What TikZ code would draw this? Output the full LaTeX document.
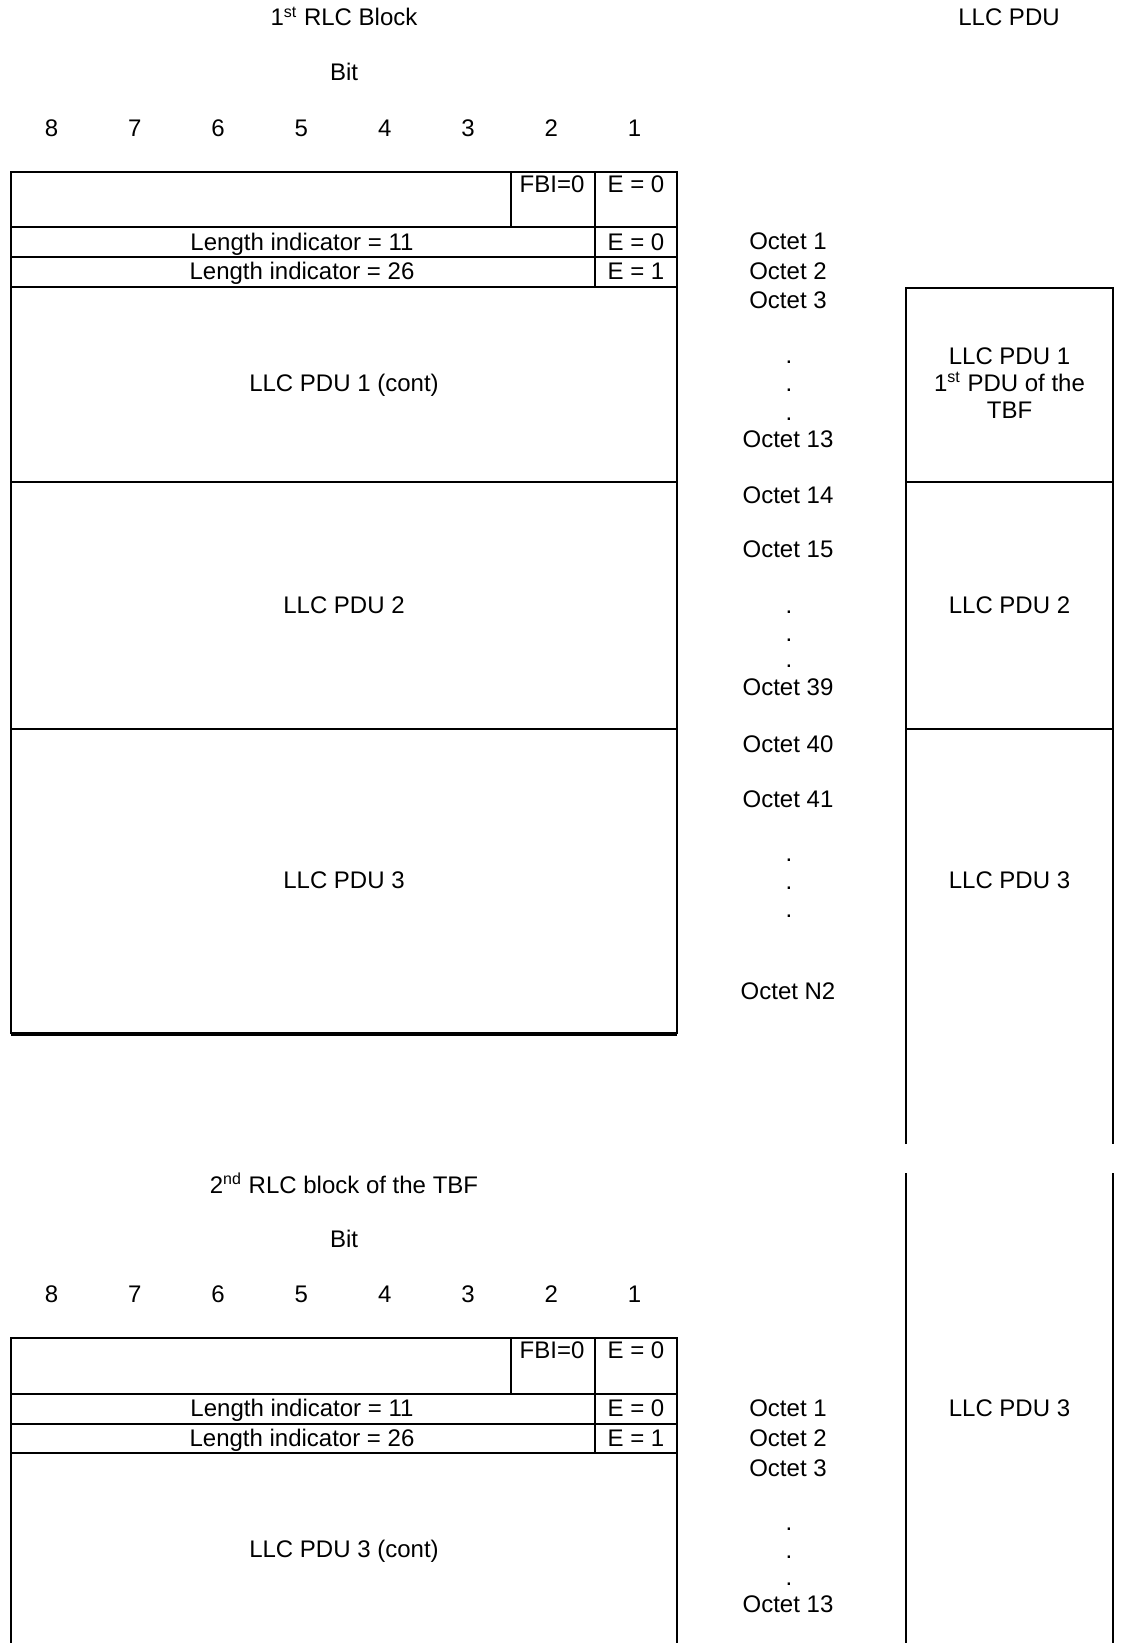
\documentclass[tikz,border=0pt]{standalone}
\usepackage{fontspec}
\setmainfont{Liberation Sans}

\begin{document}
\begin{tikzpicture}[
    x=0.5pt,
    y=-0.5pt,
    plaintext/.style={
        anchor=base,
        inner sep=0pt,
        font=\fontsize{12}{13.6}\selectfont
    },
    stackedtext/.style={
        inner sep=0pt,
        align=center,
        font=\fontsize{12}{13.6}\selectfont
    },
    fieldline/.style={
        line width=1.1pt
    },
    closingline/.style={
        line width=1.8pt
    }
]
    \useasboundingbox (0,0) rectangle (1121,1643);

    % first RLC block: headings
    \node[plaintext] (firstTitle) at (344,26) {1\textsuperscript{st} RLC Block};
    \node[plaintext] (pduTitle) at (1009,26) {LLC PDU};
    \node[plaintext] (firstBit) at (344,81) {Bit};
    \node[plaintext] (firstBitEight) at (51.5,136) {8};
    \node[plaintext] (firstBitSeven) at (134.8,136) {7};
    \node[plaintext] (firstBitSix) at (218.1,136) {6};
    \node[plaintext] (firstBitFive) at (301.4,136) {5};
    \node[plaintext] (firstBitFour) at (384.7,136) {4};
    \node[plaintext] (firstBitThree) at (468,136) {3};
    \node[plaintext] (firstBitTwo) at (551.3,136) {2};
    \node[plaintext] (firstBitOne) at (634.6,136) {1};

    % first RLC block: fields
    \draw[fieldline] (11,1034) -- (11,172) -- (677,172) -- (677,1034);
    \draw[closingline] (11,1034) -- (677,1034);
    \draw[fieldline] (11,227) -- (677,227);
    \draw[fieldline] (11,257) -- (677,257);
    \draw[fieldline] (11,287) -- (677,287);
    \draw[fieldline] (11,482) -- (677,482);
    \draw[fieldline] (11,729) -- (677,729);
    \draw[fieldline] (511,172) -- (511,227);
    \draw[fieldline] (595,172) -- (595,287);

    \node[plaintext] (firstFbi) at (552,192) {FBI=0};
    \node[plaintext] (firstExtA) at (636,192) {E = 0};
    \node[plaintext] (firstLengthA) at (302,250) {Length indicator = 11};
    \node[plaintext] (firstExtB) at (636,250) {E = 0};
    \node[plaintext] (firstLengthB) at (302,279.5) {Length indicator = 26};
    \node[plaintext] (firstExtC) at (636,279.5) {E = 1};
    \node[plaintext] (pduOneCont) at (344,391) {LLC PDU 1 (cont)};
    \node[plaintext] (pduTwo) at (344,613) {LLC PDU 2};
    \node[plaintext] (pduThree) at (344,888.5) {LLC PDU 3};

    % first RLC block: octets
    \node[plaintext] (octetOne) at (788,249.5) {Octet 1};
    \node[plaintext] (octetTwo) at (788,279.5) {Octet 2};
    \node[plaintext] (octetThree) at (788,308.5) {Octet 3};
    \node[plaintext] (dotOneA) at (789,363) {.};
    \node[plaintext] (dotOneB) at (789,391.5) {.};
    \node[plaintext] (dotOneC) at (789,420) {.};
    \node[plaintext] (octetThirteen) at (788,447) {Octet 13};
    \node[plaintext] (octetFourteen) at (788,503.5) {Octet 14};
    \node[plaintext] (octetFifteen) at (788,557.5) {Octet 15};
    \node[plaintext] (dotTwoA) at (789,613) {.};
    \node[plaintext] (dotTwoB) at (789,641.5) {.};
    \node[plaintext] (dotTwoC) at (789,667.5) {.};
    \node[plaintext] (octetThirtyNine) at (788,695) {Octet 39};
    \node[plaintext] (octetForty) at (788,752) {Octet 40};
    \node[plaintext] (octetFortyOne) at (788,807.5) {Octet 41};
    \node[plaintext] (dotThreeA) at (789,861) {.};
    \node[plaintext] (dotThreeB) at (789,889) {.};
    \node[plaintext] (dotThreeC) at (789,917) {.};
    \node[plaintext] (octetLast) at (788,999.5) {Octet N2};

    % LLC PDU column
    \draw[fieldline] (906,1144) -- (906,288) -- (1113,288) -- (1113,1144);
    \draw[fieldline] (906,482) -- (1113,482);
    \draw[fieldline] (906,729) -- (1113,729);
    \draw[fieldline] (906,1173) -- (906,1643);
    \draw[fieldline] (1113,1173) -- (1113,1643);

    \node[stackedtext] (columnPduOne) at (1009.5,383) {LLC PDU 1\\1\textsuperscript{st} PDU of the\\TBF};
    \node[plaintext] (columnPduTwo) at (1009.5,613) {LLC PDU 2};
    \node[plaintext] (columnPduThree) at (1009.5,888.5) {LLC PDU 3};
    \node[plaintext] (columnPduThreeNext) at (1009.5,1416) {LLC PDU 3};

    % second RLC block: headings
    \node[plaintext] (secondTitle) at (344,1193.5) {2\textsuperscript{nd} RLC block of the TBF};
    \node[plaintext] (secondBit) at (344,1247.5) {Bit};
    \node[plaintext] (secondBitEight) at (51.5,1302.5) {8};
    \node[plaintext] (secondBitSeven) at (134.8,1302.5) {7};
    \node[plaintext] (secondBitSix) at (218.1,1302.5) {6};
    \node[plaintext] (secondBitFive) at (301.4,1302.5) {5};
    \node[plaintext] (secondBitFour) at (384.7,1302.5) {4};
    \node[plaintext] (secondBitThree) at (468,1302.5) {3};
    \node[plaintext] (secondBitTwo) at (551.3,1302.5) {2};
    \node[plaintext] (secondBitOne) at (634.6,1302.5) {1};

    % second RLC block: fields
    \draw[fieldline] (11,1643) -- (11,1338) -- (677,1338) -- (677,1643);
    \draw[fieldline] (11,1394) -- (677,1394);
    \draw[fieldline] (11,1424) -- (677,1424);
    \draw[fieldline] (11,1453) -- (677,1453);
    \draw[fieldline] (511,1338) -- (511,1394);
    \draw[fieldline] (595,1338) -- (595,1453);

    \node[plaintext] (secondFbi) at (552,1358.5) {FBI=0};
    \node[plaintext] (secondExtA) at (636,1358.5) {E = 0};
    \node[plaintext] (secondLengthA) at (302,1416.5) {Length indicator = 11};
    \node[plaintext] (secondExtB) at (636,1416.5) {E = 0};
    \node[plaintext] (secondLengthB) at (302,1446) {Length indicator = 26};
    \node[plaintext] (secondExtC) at (636,1446) {E = 1};
    \node[plaintext] (pduThreeCont) at (344,1557) {LLC PDU 3 (cont)};

    % second RLC block: octets
    \node[plaintext] (nextOctetOne) at (788,1416) {Octet 1};
    \node[plaintext] (nextOctetTwo) at (788,1446) {Octet 2};
    \node[plaintext] (nextOctetThree) at (788,1476) {Octet 3};
    \node[plaintext] (dotFourA) at (789,1530) {.};
    \node[plaintext] (dotFourB) at (789,1558) {.};
    \node[plaintext] (dotFourC) at (789,1585.5) {.};
    \node[plaintext] (nextOctetThirteen) at (788,1612) {Octet 13};
\end{tikzpicture}
\end{document}
